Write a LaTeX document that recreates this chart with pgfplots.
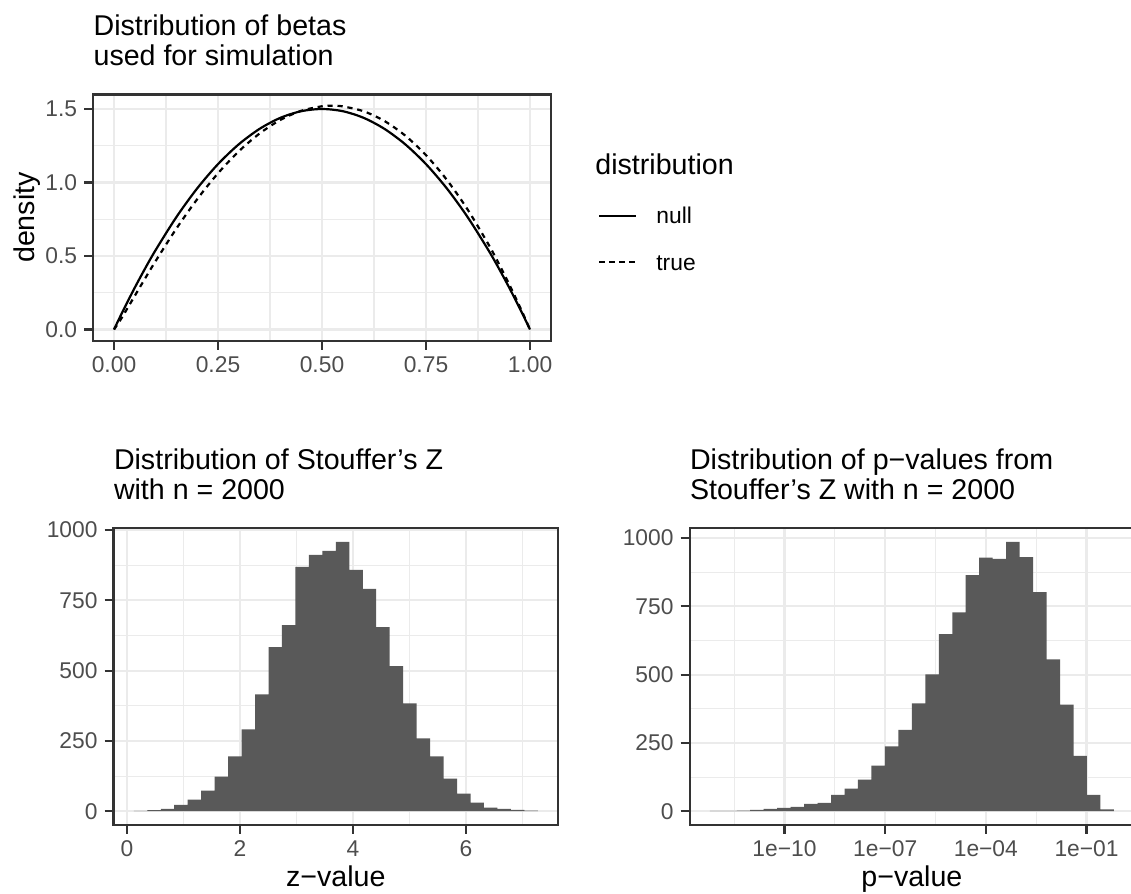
\documentclass[border=0pt]{standalone}
\usepackage{fontspec}
\setmainfont{Liberation Sans}
\usepackage{pgfplots}
\pgfplotsset{compat=1.18}

\definecolor{grey20}{HTML}{333333}
\definecolor{grey30}{HTML}{4D4D4D}
\definecolor{grey35}{HTML}{595959}
\definecolor{grey92}{HTML}{EBEBEB}

\newcommand{\basefont}{\fontsize{14.3}{17}\selectfont}
\newcommand{\tickfont}{\fontsize{11.4}{13.7}\selectfont}

% theme_bw-like look shared by all three panels
\pgfplotsset{
  ggbw/.style={
    scale only axis,
    anchor=south west,
    axis line style={grey20, line width=1.1pt},
    tick align=outside,
    tick pos=left,
    major tick length=4.5pt,
    minor tick length=0pt,
    major tick style={grey20, line width=1.1pt},
    grid=both,
    major grid style={grey92, line width=1.1pt},
    minor grid style={grey92, line width=0.55pt},
    tick label style={font=\tickfont, text=grey30},
  },
}

% Stouffer's Z histogram: left bin edge, count
\pgfplotstableread{
x     n
0.120 1
0.358 4
0.597 8
0.835 23
1.074 41
1.312 73
1.550 123
1.789 195
2.027 291
2.266 416
2.504 584
2.742 662
2.981 869
3.219 912
3.458 926
3.696 958
3.934 858
4.173 791
4.411 655
4.650 516
4.888 384
5.126 259
5.365 195
5.603 116
5.842 63
6.080 31
6.318 13
6.557 8
6.795 5
7.034 2
7.272 2
}\zhist

% p-value histogram: left bin edge as log10(p), count
\pgfplotstableread{
x       n
-12.226 1
-11.825 1
-11.423 2
-11.022 5
-10.620 9
-10.219 12
-9.818  16
-9.416  27
-9.015  31
-8.613  60
-8.212  83
-7.811  116
-7.409  167
-7.008  237
-6.606  298
-6.205  395
-5.804  501
-5.402  648
-5.001  728
-4.599  864
-4.198  928
-3.797  924
-3.395  986
-2.994  930
-2.592  802
-2.191  556
-1.790  390
-1.388  203
-0.987  60
-0.585  7
-0.184  7
}\phist

\begin{document}
\begin{tikzpicture}

% ---------------- density of the betas ----------------
\begin{axis}[ggbw,
  at={(46.6pt,276.65pt)}, width=228.8pt, height=123.05pt,
  xmin=-0.05, xmax=1.05, ymin=-0.0761, ymax=1.598,
  xtick={0,0.25,0.5,0.75,1}, xticklabels={0.00,0.25,0.50,0.75,1.00},
  ytick={0,0.5,1,1.5}, yticklabels={0.0,0.5,1.0,1.5},
  minor xtick={0.125,0.375,0.625,0.875},
  minor ytick={0.25,0.75,1.25},
]
\addplot[black, line width=1.1pt, smooth] coordinates {
 (0,0) (0.0125,0.0741) (0.025,0.1463) (0.05,0.285) (0.075,0.4163)
 (0.1,0.54) (0.15,0.765) (0.2,0.96) (0.25,1.125) (0.3,1.26)
 (0.35,1.365) (0.4,1.44) (0.45,1.485) (0.5,1.5) (0.55,1.485)
 (0.6,1.44) (0.65,1.365) (0.7,1.26) (0.75,1.125) (0.8,0.96)
 (0.85,0.765) (0.9,0.54) (0.925,0.4163) (0.95,0.285) (0.975,0.1463)
 (0.9875,0.0741) (1,0)
};
\addplot[black, line width=1.1pt, smooth, dash pattern=on 2.6pt off 2.4pt] coordinates {
 (0,0) (0.0125,0.0519) (0.025,0.1097) (0.05,0.2292) (0.075,0.3485)
 (0.1,0.4654) (0.15,0.6866) (0.2,0.8867) (0.25,1.0626) (0.3,1.2120)
 (0.35,1.3334) (0.4,1.4256) (0.45,1.4876) (0.5,1.5185) (0.525,1.5220)
 (0.55,1.5177) (0.6,1.4846) (0.65,1.4186) (0.7,1.3192) (0.75,1.1860)
 (0.8,1.0186) (0.85,0.8166) (0.9,0.5798) (0.925,0.4481) (0.95,0.3076)
 (0.975,0.1583) (0.9875,0.0803) (1,0)
};
\end{axis}

% ---------------- Stouffer's Z ----------------
\begin{axis}[ggbw,
  at={(56.8pt,34.65pt)}, width=222.25pt, height=148.15pt,
  xmin=-0.238, xmax=7.630, ymin=-47.9, ymax=1005.9,
  xtick={0,2,4,6}, xticklabels={0,2,4,6},
  ytick={0,250,500,750,1000}, yticklabels={0,250,500,750,1000},
  minor xtick={1,3,5,7},
  minor ytick={125,375,625,875},
]
\addplot[ybar interval, fill=grey35, draw=none] table[x=x, y=n] {\zhist};
\end{axis}

% ---------------- p-values ----------------
\begin{axis}[ggbw,
  at={(344.8pt,34.65pt)}, width=222.25pt, height=148.15pt,
  xmin=-12.828, xmax=0.418, ymin=-49.3, ymax=1035.3,
  xtick={-10,-7,-4,-1}, xticklabels={1e−10,1e−07,1e−04,1e−01},
  ytick={0,250,500,750,1000}, yticklabels={0,250,500,750,1000},
  minor xtick={-11.5,-8.5,-5.5,-2.5},
  minor ytick={125,375,625,875},
]
\addplot[ybar interval, fill=grey35, draw=none] table[x=x, y=n] {\phist};
\end{axis}

% ---------------- titles ----------------
\node[anchor=base west, inner sep=0pt, font=\basefont] at (46.6pt,429pt) {Distribution of betas};
\node[anchor=base west, inner sep=0pt, font=\basefont] at (46.6pt,414pt) {used for simulation};
\node[anchor=base west, inner sep=0pt, font=\basefont] at (56.8pt,212.25pt) {Distribution of Stouffer's Z};
\node[anchor=base west, inner sep=0pt, font=\basefont] at (56.8pt,197.1pt) {with n = 2000};
\node[anchor=base west, inner sep=0pt, font=\basefont] at (344.8pt,212.25pt) {Distribution of p−values from};
\node[anchor=base west, inner sep=0pt, font=\basefont] at (344.8pt,197.1pt) {Stouffer's Z with n = 2000};

% ---------------- axis titles ----------------
\node[rotate=90, inner sep=0pt, font=\basefont] at (13.5pt,338.2pt) {density};
\node[anchor=base, inner sep=0pt, font=\basefont] at (167.9pt,3.65pt) {z−value};
\node[anchor=base, inner sep=0pt, font=\basefont] at (455.95pt,3.65pt) {p−value};

% ---------------- legend ----------------
\node[anchor=base west, inner sep=0pt, font=\basefont] at (297.5pt,359.5pt) {distribution};
\draw[black, line width=1.1pt] (299.65pt,339pt) -- (318pt,339pt);
\draw[black, line width=1.1pt, dash pattern=on 2.6pt off 2.4pt] (299.65pt,316.15pt) -- (318pt,316.15pt);
\node[anchor=base west, inner sep=0pt, font=\tickfont] at (328pt,335.35pt) {null};
\node[anchor=base west, inner sep=0pt, font=\tickfont] at (328pt,311.65pt) {true};

\pgfresetboundingbox
\path[use as bounding box] (0pt,0pt) rectangle (565.5pt,447pt);
\end{tikzpicture}
\end{document}
